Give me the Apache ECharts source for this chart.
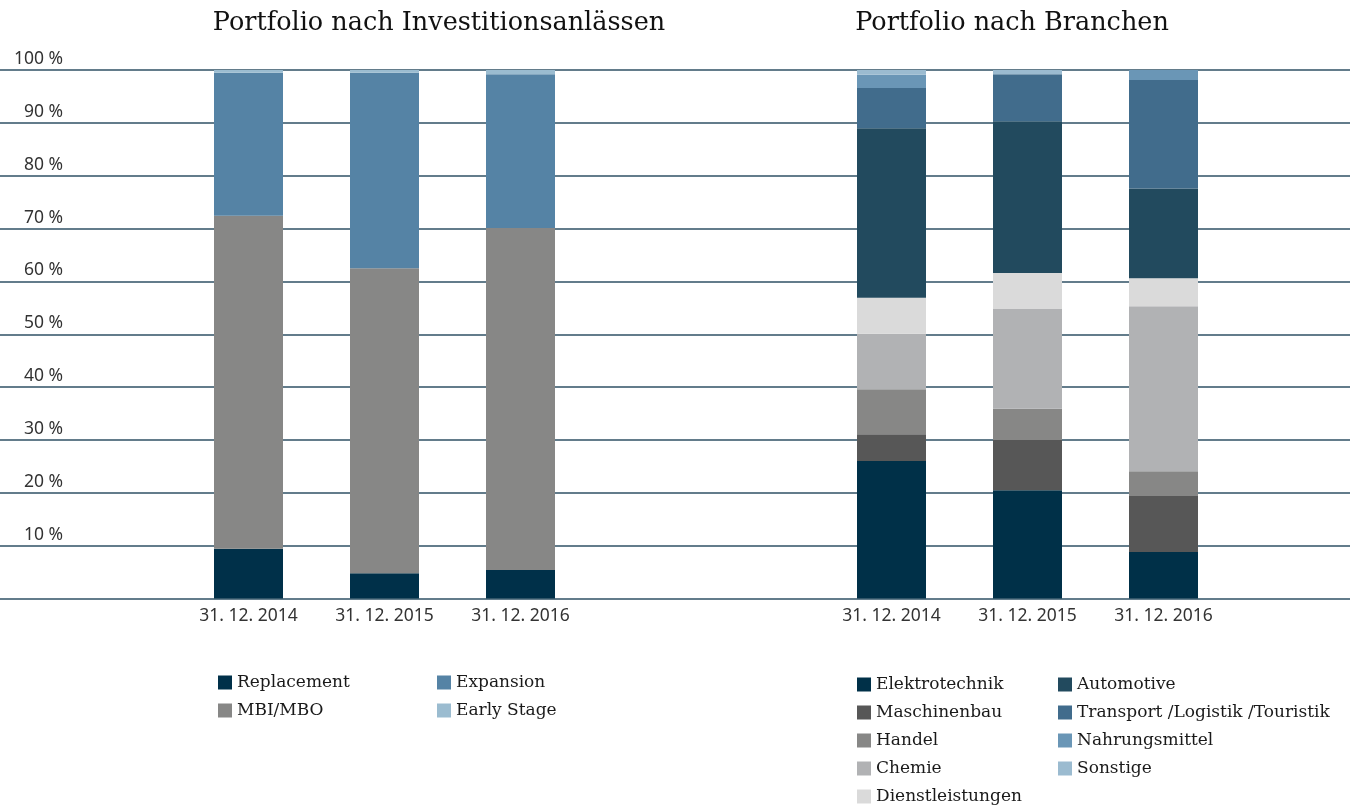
<!DOCTYPE html>
<html>
<head>
<meta charset="utf-8">
<script src="https://cdn.jsdelivr.net/npm/echarts@6/dist/echarts.min.js"></script>
<style>
  html, body { margin: 0; padding: 0; background: #fff; }
  #main { width: 1350px; height: 805px; }
</style>
</head>
<body>
<div id="main"></div>
<script>
var dates = ['31. 12. 2014', '31. 12. 2015', '31. 12. 2016'];

// Portfolio nach Investitionsanlässen (in %)
var replacement = [9.4, 4.8, 5.4];
var mbiMbo = [63.0, 57.7, 64.7];
var expansion = [27.1, 37.0, 29.1];
var earlyStage = [0.5, 0.5, 0.8];

// Portfolio nach Branchen (in %)
var elektrotechnik = [26.0, 20.5, 8.8];
var maschinenbau = [5.1, 9.5, 10.6];
var handel = [8.5, 5.9, 4.7];
var chemie = [10.5, 18.9, 31.2];
var dienstleistungen = [6.8, 6.8, 5.3];
var automotive = [32.1, 28.7, 17.0];
var transport = [7.6, 8.9, 20.5];
var nahrungsmittel = [2.5, 0, 1.9];
var sonstige = [0.9, 0.8, 0];

var yTicks = [0, 10, 20, 30, 40, 50, 60, 70, 80, 90, 100];

var serifFont = 'DejaVu Serif';
var sansFont = 'Noto Sans';

function barSeries(name, data, color, axisIdx, stack) {
    return {
        name: name,
        type: 'bar',
        stack: stack,
        xAxisIndex: axisIdx,
        yAxisIndex: axisIdx,
        barWidth: 69,
        itemStyle: {color: color},
        data: data
    };
}

var myChart = echarts.init(document.getElementById('main'));

var legendText = {fontFamily: serifFont, fontSize: 17, color: '#1a1a1a'};
var legendBase = {orient: 'vertical', icon: 'rect', itemWidth: 14, itemHeight: 14, itemGap: 11, textStyle: legendText};

option = {
    animation: false,
    title: [{
        text: 'Portfolio nach Investitionsanlässen',
        left: 434, top: 5, textAlign: 'center',
        textStyle: {fontFamily: serifFont, fontSize: 25.5, fontWeight: 'normal', color: '#111'}
    }, {
        text: 'Portfolio nach Branchen',
        left: 1007, top: 5, textAlign: 'center',
        textStyle: {fontFamily: serifFont, fontSize: 25.5, fontWeight: 'normal', color: '#111'}
    }],
    legend: [
        Object.assign({data: ['Replacement', 'MBI/MBO'], left: 213, top: 669}, legendBase),
        Object.assign({data: ['Expansion', 'Early Stage'], left: 432, top: 669}, legendBase),
        Object.assign({data: ['Elektrotechnik', 'Maschinenbau', 'Handel', 'Chemie'], left: 852, top: 671}, legendBase),
        Object.assign({data: ['Dienstleistungen'], left: 852, top: 783}, legendBase),
        Object.assign({data: ['Automotive', 'Transport /Logistik /Touristik', 'Nahrungsmittel', 'Sonstige'], left: 1053, top: 671}, legendBase)
    ],
    grid: [
        {left: 0, right: 0, top: 70, bottom: 206.5},
        {left: 180.5, width: 408, top: 70, bottom: 206.5},
        {left: 823.5, width: 408, top: 70, bottom: 206.5}
    ],
    xAxis: [{
        gridIndex: 0, type: 'value', min: 0, max: 1, show: false
    }, {
        gridIndex: 1, type: 'category', data: dates,
        axisLine: {show: false}, axisTick: {show: false},
        axisLabel: {fontFamily: sansFont, fontSize: 17.5, color: '#333', margin: 9}
    }, {
        gridIndex: 2, type: 'category', data: dates,
        axisLine: {show: false}, axisTick: {show: false},
        axisLabel: {fontFamily: sansFont, fontSize: 17.5, color: '#333', margin: 9}
    }],
    yAxis: [{
        gridIndex: 0, type: 'value', min: yTicks[0], max: yTicks[yTicks.length - 1], interval: 10,
        axisLine: {show: false}, axisTick: {show: false},
        splitLine: {lineStyle: {color: '#2f5064', width: 1.5}},
        axisLabel: {
            inside: true, margin: 63, align: 'right', verticalAlign: 'bottom',
            padding: [0, 0, 2, 0],
            fontFamily: sansFont, fontSize: 17.5, color: '#333',
            formatter: function (v) { return v === 0 ? '' : v + ' %'; }
        }
    }, {
        gridIndex: 1, type: 'value', min: 0, max: 100, show: false, splitLine: {show: false}
    }, {
        gridIndex: 2, type: 'value', min: 0, max: 100, show: false, splitLine: {show: false}
    }],
    series: [
        barSeries('Replacement', replacement, '#003049', 1, 'a'),
        barSeries('MBI/MBO', mbiMbo, '#878786', 1, 'a'),
        barSeries('Expansion', expansion, '#5583a5', 1, 'a'),
        barSeries('Early Stage', earlyStage, '#9bbcd0', 1, 'a'),
        barSeries('Elektrotechnik', elektrotechnik, '#003048', 2, 'b'),
        barSeries('Maschinenbau', maschinenbau, '#575757', 2, 'b'),
        barSeries('Handel', handel, '#878786', 2, 'b'),
        barSeries('Chemie', chemie, '#b1b2b4', 2, 'b'),
        barSeries('Dienstleistungen', dienstleistungen, '#dadada', 2, 'b'),
        barSeries('Automotive', automotive, '#224a5e', 2, 'b'),
        barSeries('Transport /Logistik /Touristik', transport, '#416c8c', 2, 'b'),
        barSeries('Nahrungsmittel', nahrungsmittel, '#6a96b6', 2, 'b'),
        barSeries('Sonstige', sonstige, '#9bbbd0', 2, 'b')
    ]
};
myChart.setOption(option);
</script>
</body>
</html>
